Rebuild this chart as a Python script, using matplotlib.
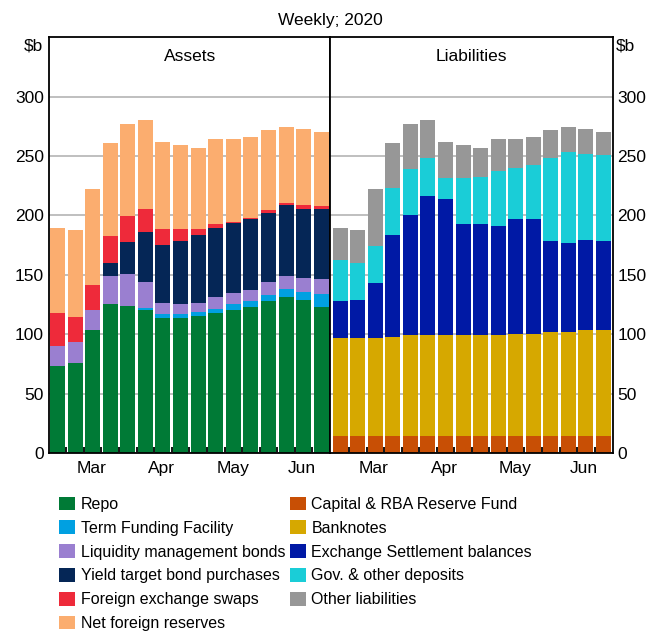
import numpy as np
import matplotlib
matplotlib.use("Agg")
import matplotlib.pyplot as plt
from matplotlib.patches import Patch

plt.rcParams['font.family'] = ['Liberation Sans', 'DejaVu Sans']

# --- DATA (A$ billion, weekly 2020) ---
weeks = ["26 Feb", "4 Mar", "11 Mar", "18 Mar", "25 Mar", "1 Apr", "8 Apr", "15 Apr",
         "22 Apr", "29 Apr", "6 May", "13 May", "20 May", "27 May", "3 Jun", "10 Jun"]
month_labels = ["Mar", "Apr", "May", "Jun"]

# Assets
repo = [73.4, 75.9, 103.4, 125.5, 124.1, 120.7, 114.0, 114.0, 115.7, 117.9, 120.7, 123.0, 128.0, 131.4, 129.1, 123.0]
term_funding = [0, 0, 0, 0, 0, 1.1, 2.8, 2.8, 3.3, 3.7, 4.5, 4.7, 4.8, 6.4, 6.2, 11.2]
liquidity_bonds = [17.1, 17.4, 17.3, 23.2, 26.3, 22.2, 9.8, 8.7, 7.6, 9.8, 9.8, 9.8, 11.2, 10.9, 12.3, 12.0]
yield_target = [0, 0, 0, 11.2, 26.9, 42.0, 48.2, 52.9, 56.6, 58.2, 58.6, 59.4, 57.7, 60.5, 58.0, 59.1]
fx_swaps = [27.7, 21.0, 21.0, 22.5, 21.9, 19.6, 13.4, 9.8, 5.0, 3.4, 1.1, 1.1, 2.5, 1.2, 3.6, 2.5]
net_reserves = [71.4, 73.7, 80.7, 78.4, 77.5, 74.8, 73.7, 71.5, 68.7, 71.4, 69.7, 67.8, 67.8, 64.1, 63.6, 62.8]

# Liabilities
capital = [14.6] * 16
banknotes = [82.3, 82.3, 82.3, 83.4, 84.8, 84.8, 84.8, 84.8, 84.8, 84.8, 86.0, 86.0, 87.6, 87.6, 88.8, 88.8]
esa = [30.8, 32.2, 46.0, 85.2, 101.2, 117.1, 114.6, 93.6, 93.6, 91.4, 96.3, 96.3, 76.0, 74.8, 76.2, 74.8]
gov_deposits = [34.5, 30.9, 31.6, 39.8, 38.1, 32.0, 17.4, 38.4, 39.8, 46.7, 43.1, 46.0, 70.3, 76.2, 72.5, 72.8]
other_liab = [27.2, 28.0, 47.9, 37.8, 38.0, 31.9, 30.5, 28.3, 24.1, 26.9, 24.4, 22.9, 23.5, 21.3, 20.7, 19.6]

asset_series = [
    ("Repo", repo, "#007A36"),
    ("Term Funding Facility", term_funding, "#00A0E1"),
    ("Liquidity management bonds", liquidity_bonds, "#9A7FD0"),
    ("Yield target bond purchases", yield_target, "#052656"),
    ("Foreign exchange swaps", fx_swaps, "#EE2A3A"),
    ("Net foreign reserves", net_reserves, "#FBAD6F"),
]
liab_series = [
    ("Capital & RBA Reserve Fund", capital, "#C84F05"),
    ("Banknotes", banknotes, "#D6A800"),
    ("Exchange Settlement balances", esa, "#0019A5"),
    ("Gov. & other deposits", gov_deposits, "#1ACDD7"),
    ("Other liabilities", other_liab, "#979797"),
]

W, H = 650, 633
fig = plt.figure(figsize=(W / 100, H / 100), dpi=100)

def px_axes(x0, x1, y0, y1):
    # pixel box (top-left origin) -> figure fraction
    return fig.add_axes([x0 / W, 1 - y1 / H, (x1 - x0) / W, (y1 - y0) / H])

ax_a = px_axes(49.3, 330, 37.3, 453)
ax_l = px_axes(330, 613.3, 37.3, 453)

x = np.arange(len(weeks))
month_pos = [1.92, 5.92, 9.96, 13.9]


def draw_stack(ax, series):
    bottom = np.zeros(len(x))
    for name, vals, col in series:
        vals = np.array(vals, dtype=float)
        ax.bar(x, vals, width=0.85, bottom=bottom, color=col, linewidth=0, zorder=3)
        bottom += vals


draw_stack(ax_a, asset_series)
draw_stack(ax_l, liab_series)

for ax, xl in ((ax_a, (-0.465, 15.5)), (ax_l, (-0.58, 15.56))):
    ax.set_xlim(*xl)
    ax.set_ylim(0, 350)
    ax.set_yticks(np.arange(0, 301, 50))
    ax.grid(axis='y', color='#b4b4b4', linewidth=1.2, zorder=0)
    ax.set_xticks(month_pos)
    ax.set_xticklabels(month_labels, fontsize=12.5)
    ax.set_xticks(x[:-1] + 0.5, minor=True)
    ax.tick_params(axis='x', which='major', length=0, pad=6)
    ax.tick_params(axis='x', which='minor', direction='in', length=4, width=1.3, color='black')
    ax.tick_params(axis='y', length=0, labelsize=12.5, pad=4)
    for s in ax.spines.values():
        s.set_linewidth(1.3)
        s.set_color('black')
        s.set_zorder(5)

ax_l.yaxis.tick_right()
ax_l.tick_params(axis='y', length=0, pad=3)

ax_a.text(0.5, 0.955, "Assets", transform=ax_a.transAxes, ha='center', va='center', fontsize=12.5)
ax_l.text(0.5, 0.955, "Liabilities", transform=ax_l.transAxes, ha='center', va='center', fontsize=12.5)

fig.text(330 / W, 1 - 20 / H, "Weekly; 2020", ha='center', va='center', fontsize=12.5)
fig.text(43 / W, 1 - 46 / H, "$b", ha='right', va='center', fontsize=12.5)
fig.text(616 / W, 1 - 46 / H, "$b", ha='left', va='center', fontsize=12.5)

handles = [Patch(facecolor=c, label=n) for n, _, c in asset_series + liab_series]
fig.legend(handles=handles, ncol=2, loc='upper left',
           bbox_to_anchor=(59 / W, 1 - 496.5 / H), frameon=False,
           fontsize=11.5, handlelength=1.0, handleheight=0.95,
           handletextpad=0.35, columnspacing=0.3, labelspacing=0.53,
           borderpad=0, borderaxespad=0)

fig.savefig("out.png", dpi=100)
